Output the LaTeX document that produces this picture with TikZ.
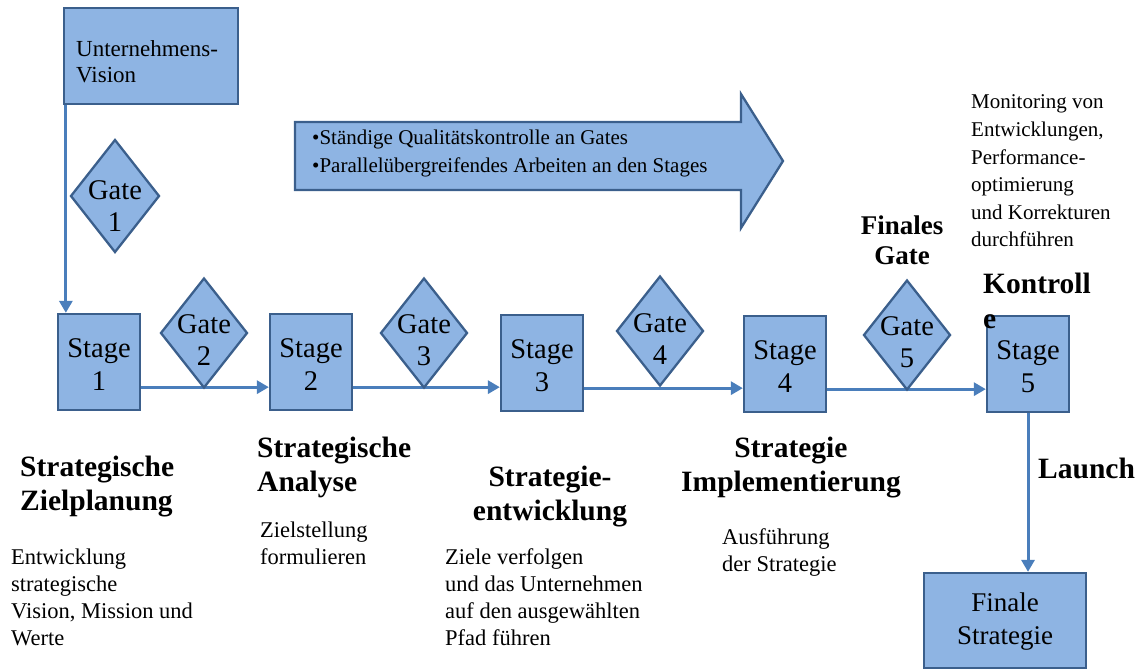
\documentclass[tikz,border=0pt]{standalone}
\usepackage{fontspec}
\setmainfont{Liberation Serif}
\usetikzlibrary{shapes.geometric,arrows.meta}
\definecolor{boxfill}{HTML}{8EB4E3}
\definecolor{boxline}{HTML}{3B5F8C}
\definecolor{arrline}{HTML}{4A7EBB}
\begin{document}
\begin{tikzpicture}[x=1pt,y=-1pt,
 box/.style={draw=boxline,fill=boxfill,line width=2.3pt,inner sep=0pt},
 stagebox/.style={box,minimum width=82pt,minimum height=96pt},
 stagetext/.style={align=center,inner sep=0pt,font=\fontsize{28.5}{33}\selectfont},
 gate/.style={draw=boxline,fill=boxfill,line width=2.3pt,diamond,inner sep=0pt,minimum width=87pt,minimum height=110pt},
 gatetext/.style={font=\fontsize{28.5}{32.5}\selectfont,align=center,inner sep=0pt},
 arr/.style={draw=arrline,line width=3pt,-{Triangle[length=12pt,width=13pt]}},
 head/.style={font=\fontsize{29.5}{34}\selectfont\bfseries,inner sep=0pt},
 desc/.style={font=\fontsize{22.5}{27}\selectfont,align=left,inner sep=0pt,anchor=west},
]
\useasboundingbox (0,0) rectangle (1142,670);

% big arrow
\path[draw=boxline,fill=boxfill,line width=2.3pt,line join=miter]
  (295,122) -- (741,122) -- (741,94) -- (783,161) -- (741,228) -- (741,190) -- (295,190) -- cycle;
\node[desc,font=\fontsize{21}{28}\selectfont] (bigtext) at (312,153)
  {•Ständige Qualitätskontrolle an Gates\\•Parallelübergreifendes Arbeiten an den Stages};

% vision
\node[box,minimum width=174pt,minimum height=96pt] (vision) at (151,56) {};
\node[desc,font=\fontsize{23}{26}\selectfont] (visiont) at (76,62) {Unternehmens-\\Vision};

% stages
\node[stagebox] (s1) at (99,362) {};
\node[stagetext] (s1t) at (99,365) {Stage\\1};
\node[stagebox] (s2) at (311,362) {};
\node[stagetext] (s2t) at (311,365) {Stage\\2};
\node[stagebox] (s3) at (542,363) {};
\node[stagetext] (s3t) at (542,366) {Stage\\3};
\node[stagebox] (s4) at (785,364) {};
\node[stagetext] (s4t) at (785,367) {Stage\\4};
\node[stagebox] (s5) at (1028,364) {};
\node[stagetext] (s5t) at (1028,367) {Stage\\5};
\node[box,minimum width=162pt,minimum height=95pt] (final) at (1005,620.5) {};
\node[stagetext,font=\fontsize{27}{33}\selectfont] (finalt) at (1005,622) {Finale\\Strategie};

% connectors
\draw[arr] ([xshift=3pt]vision.south west) -- ([xshift=3pt]vision.south west |- s1.north);
\draw[arr] ([yshift=24pt]s1.south east) -- ([yshift=24pt]s1.south east -| s2.west);
\draw[arr] ([yshift=24pt]s2.south east) -- ([yshift=24pt]s2.south east -| s3.west);
\draw[arr] ([yshift=24pt]s3.south east) -- ([yshift=24pt]s3.south east -| s4.west);
\draw[arr] ([yshift=24pt]s4.south east) -- ([yshift=24pt]s4.south east -| s5.west);
\draw[arr] (s5.south) -- (s5.south |- final.north);

% gates
\node[gate,minimum width=89pt,minimum height=113pt] (g1) at (115,196) {};
\node[gatetext] (g1t) at (115,206) {Gate\\1};
\node[gate] (g2) at (204,333) {};
\node[gatetext] (g2t) at (204,340) {Gate\\2};
\node[gate] (g3) at (424,333) {};
\node[gatetext] (g3t) at (424,340) {Gate\\3};
\node[gate] (g4) at (660,331) {};
\node[gatetext] (g4t) at (660,339) {Gate\\4};
\node[gate] (g5) at (907,335) {};
\node[gatetext] (g5t) at (907,342) {Gate\\5};

% labels
\node[head,anchor=west] (launch) at (1038,468) {Launch};
\node[head,anchor=west,align=left,font=\fontsize{29.5}{35}\selectfont\bfseries] (kontrolle) at (983,301) {Kontroll\\e};
\node[head,align=center,font=\fontsize{27}{30}\selectfont\bfseries] (finales) at (902,240.5) {Finales\\Gate};
\node[desc,font=\fontsize{21}{27.6}\selectfont] (monitor) at (971,171)
  {Monitoring von\\Entwicklungen,\\Performance-\\optimierung\\und Korrekturen\\durchführen};

\node[head,anchor=west,align=left] (h1) at (20,487) {Strategische\\Zielplanung};
\node[desc] (d1) at (11,597) {Entwicklung\\strategische\\Vision, Mission und\\Werte};

\node[head,anchor=west,align=left] (h2) at (257,467) {Strategische\\Analyse};
\node[desc] (d2) at (260,543) {Zielstellung\\formulieren};

\node[head,align=center] (h3) at (550,497) {Strategie-\\entwicklung};
\node[desc] (d3) at (445,597) {Ziele verfolgen\\und das Unternehmen\\auf den ausgewählten\\Pfad führen};

\node[head,align=center] (h4) at (791,468) {Strategie\\Implementierung};
\node[desc] (d4) at (722,552) {Ausführung\\der Strategie};
\end{tikzpicture}
\end{document}
